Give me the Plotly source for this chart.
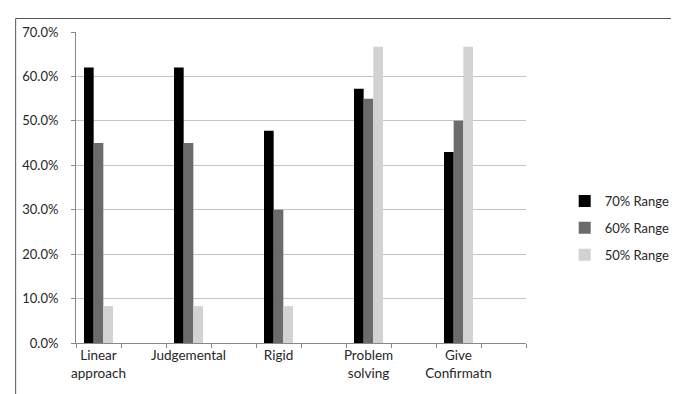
import plotly.graph_objects as go

categories = ["Linear<br>approach", "Judgemental", "Rigid", "Problem<br>solving", "Give<br>Confirmatn"]
series_names = ["70% Range", "60% Range", "50% Range"]
range70 = [0.62, 0.62, 0.478, 0.572, 0.43]
range60 = [0.45, 0.45, 0.30, 0.55, 0.50]
range50 = [0.083, 0.083, 0.083, 0.667, 0.667]
y_ticks = [0.0, 0.1, 0.2, 0.3, 0.4, 0.5, 0.6, 0.7]

colors = ["#000000", "#6b6b6b", "#d2d2d2"]

# category slots: each real category followed by an empty slot
slots = []
slot_labels = []
for i, c in enumerate(categories):
    slots.append(f"s{2*i}")
    slot_labels.append(c)
    slots.append(f"s{2*i+1}")
    slot_labels.append("")
real_slots = slots[0::2]

W, H = 679, 394
ml, mr, mt, mb = 68, 145, 24, 59
pw, ph = W - ml - mr, H - mt - mb

fig = go.Figure()
for name, vals, col in zip(series_names, [range70, range60, range50], colors):
    fig.add_trace(go.Bar(
        x=real_slots, y=vals, name=name, marker=dict(color=col, line=dict(width=0)),
        legendgroup=name,
    ))

font = dict(family="Lato, Liberation Sans, sans-serif", size=13, color="#262626")
xfont = dict(family="Lato, Liberation Sans, sans-serif", size=13.5, color="#262626")

def px_x(p):
    return (p - ml) / pw

def px_y(p):
    return (H - mb - p) / ph

fig.update_layout(
    width=W, height=H,
    margin=dict(l=ml, r=mr, t=mt, b=mb),
    paper_bgcolor="white", plot_bgcolor="white",
    barmode="group", bargap=0.356, bargroupgap=0,
    font=font,
    showlegend=True,
    legend=dict(x=1.086, xanchor="left", y=0.37, yanchor="middle",
                traceorder="grouped", tracegroupgap=7, font=font,
                bgcolor="rgba(0,0,0,0)"),
    xaxis=dict(type="category", categoryorder="array", categoryarray=slots,
               tickmode="array", tickvals=slots, ticktext=slot_labels,
               tickson="boundaries", ticks="outside", ticklen=4, tickcolor="#888888",
               showline=True, linecolor="#888888", linewidth=1, tickfont=xfont,
               showgrid=False, range=[-0.5, len(slots) - 0.5], tickangle=0),
    yaxis=dict(range=[0, 0.7], tickvals=y_ticks, tickformat=".1%",
               ticks="outside", ticklen=4, tickcolor="#888888", ticklabelstandoff=10,
               showline=True, linecolor="#888888", linewidth=1,
               showgrid=True, gridcolor="#c4c4c4", gridwidth=1, zeroline=False),
    shapes=[
        dict(type="line", xref="paper", yref="paper", x0=px_x(5.5), x1=px_x(700),
             y0=px_y(10.5), y1=px_y(10.5), line=dict(color="#555555", width=1)),
        dict(type="line", xref="paper", yref="paper", x0=px_x(5.5), x1=px_x(5.5),
             y0=px_y(10.5), y1=px_y(420), line=dict(color="#555555", width=1)),
    ],
)

fig.write_html("out.html")
